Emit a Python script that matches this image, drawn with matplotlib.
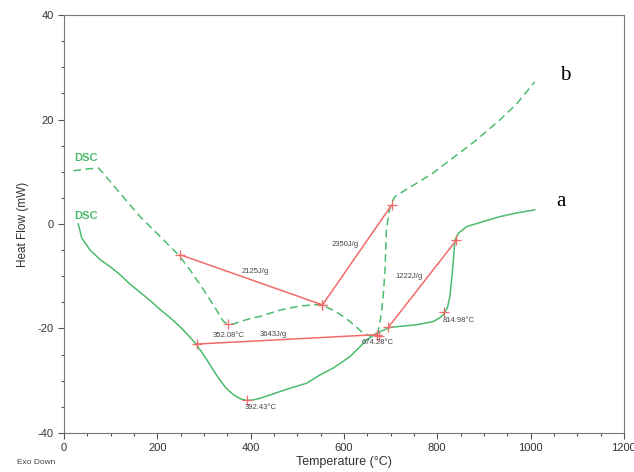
import matplotlib
matplotlib.use("Agg")
import matplotlib.pyplot as plt
from matplotlib.ticker import MultipleLocator

plt.rcParams['font.family'] = ['Liberation Sans', 'DejaVu Sans']
plt.rcParams['axes.unicode_minus'] = False

# Curve a (solid)
a_T = [30, 32, 38, 56, 77, 99, 120, 140, 163, 185, 206, 228, 249, 265, 281, 294, 306,
       320, 334, 348, 363, 378, 391, 405, 420, 440, 463, 490, 520, 549, 577, 613, 649,
       670, 699, 756, 791, 805, 813, 822, 827, 831, 834, 838, 845, 863, 900, 934, 970, 1009]
a_HF = [0.0, -0.5, -2.7, -5.0, -6.8, -8.2, -9.7, -11.4, -13.1, -14.7, -16.4, -18.0, -19.7,
        -21.2, -22.8, -24.4, -26.0, -28.0, -29.9, -31.5, -32.7, -33.5, -33.8, -33.7, -33.4,
        -32.8, -32.1, -31.3, -30.5, -28.9, -27.6, -25.4, -22.2, -20.9, -19.8, -19.3, -18.7,
        -18.0, -17.4, -16.0, -13.9, -10.5, -7.5, -3.1, -1.8, -0.5, 0.5, 1.4, 2.1, 2.7]

# Curve b (dashed)
b_T = [20, 45, 74, 81, 120, 163, 206, 245, 270, 299, 327, 341, 350, 356, 365, 377, 400,
       420, 463, 506, 549, 577, 600, 613, 630, 641, 655, 666, 672, 677, 681, 684, 688,
       691, 697, 702, 709, 730, 756, 790, 827, 880, 934, 970, 1009]
b_HF = [10.2, 10.5, 10.7, 10.0, 5.9, 1.4, -2.4, -5.9, -8.8, -12.6, -16.5, -18.6, -19.1,
        -19.2, -19.1, -18.7, -18.1, -17.7, -16.5, -15.7, -15.4, -16.5, -17.8, -18.7, -20.0,
        -20.9, -21.4, -21.5, -21.2, -19.0, -16.5, -13.9, -9.0, -1.1, 2.5, 4.0, 5.2, 6.4,
        7.8, 9.7, 12.2, 15.8, 19.9, 23.0, 27.2]

# Integration baselines (red)
base_T = [[249, 554], [554, 702], [284, 670], [695, 841]]
base_HF = [[-5.9, -15.5], [-15.5, 3.6], [-23.0, -21.2], [-19.8, -3.1]]
enthalpy_labels = ["2125J/g", "2350J/g", "3643J/g", "1222J/g"]
enthalpy_T = [409, 602, 449, 740]
enthalpy_HF = [-9.1, -4.0, -21.2, -10.1]

# Peaks
peak_T = [352.08, 392.43, 674.28, 814.98]
peak_HF = [-19.2, -33.8, -21.4, -16.8]
peak_labels = ["352.08°C", "392.43°C", "674.28°C", "814.98°C"]
peak_lab_T = [352, 421, 673, 846]
peak_lab_HF = [-21.4, -35.2, -22.7, -18.4]

green = '#4dbb6e'
red = '#f26b6b'

fig = plt.figure(figsize=(6.34, 4.72), dpi=100)
ax = fig.add_axes([0.101, 0.083, 0.883, 0.885])

ax.plot(a_T, a_HF, color=green, lw=1.1, solid_joinstyle='round')
ax.plot(b_T, b_HF, color=green, lw=1.1, ls=(0, (5, 3)))

for t, h in zip(base_T, base_HF):
    ax.plot(t, h, color=red, lw=1.1)
    ax.plot(t, h, ls='none', marker='+', ms=7, mew=0.9, color=red)
for lab, t, h in zip(enthalpy_labels, enthalpy_T, enthalpy_HF):
    ax.text(t, h, lab, fontsize=5.5, color='#444444', ha='center', va='center')

ax.plot(peak_T, peak_HF, ls='none', marker='+', ms=7, mew=0.9, color=red)
for lab, t, h in zip(peak_labels, peak_lab_T, peak_lab_HF):
    ax.text(t, h, lab, fontsize=5.5, color='#444444', ha='center', va='center')

ax.text(48, 12.6, "DSC", color=green, fontsize=8, fontweight='bold', ha='center', va='center')
ax.text(47, 1.5, "DSC", color=green, fontsize=8, fontweight='bold', ha='center', va='center')

ax.text(1074, 28.5, "b", fontsize=15, family=['Liberation Serif', 'DejaVu Serif'],
        ha='center', va='center', color='black')
ax.text(1066, 4.3, "a", fontsize=15, family=['Liberation Serif', 'DejaVu Serif'],
        ha='center', va='center', color='black')

ax.set_xlim(0, 1200)
ax.set_ylim(-40, 40)
ax.xaxis.set_major_locator(MultipleLocator(200))
ax.xaxis.set_minor_locator(MultipleLocator(50))
ax.yaxis.set_major_locator(MultipleLocator(20))
ax.yaxis.set_minor_locator(MultipleLocator(5))
ax.tick_params(which='both', direction='out', colors='#555555', labelcolor='#333333',
               labelsize=8, width=0.8)
ax.tick_params(which='major', length=4)
ax.tick_params(which='minor', length=2.5)
for s in ax.spines.values():
    s.set_color('#777777')
    s.set_linewidth(0.8)

ax.set_xlabel("Temperature (°C)", fontsize=9, color='#333333', labelpad=2)
ax.set_ylabel("Heat Flow (mW)", fontsize=8.5, color='#333333', labelpad=6)
fig.text(0.027, 0.021, "Exo Down", fontsize=6, color='#444444', ha='left', va='center')

fig.savefig("out.png", dpi=100)
